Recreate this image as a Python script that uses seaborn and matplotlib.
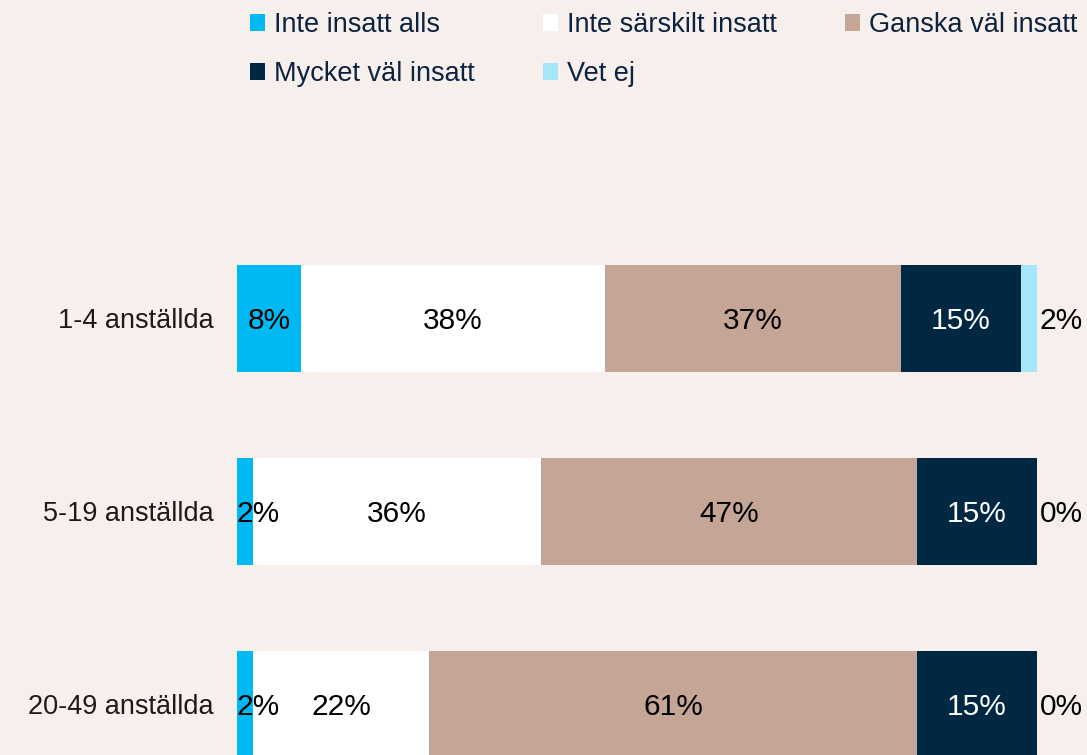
import matplotlib
matplotlib.use("Agg")
import matplotlib.pyplot as plt
from matplotlib.patches import Patch
import numpy as np
import pandas as pd
import seaborn as sns

# Data (percent of companies per size group)
categories = ["1-4 anställda", "5-19 anställda", "20-49 anställda"]
series = ["Inte insatt alls", "Inte särskilt insatt", "Ganska väl insatt",
          "Mycket väl insatt", "Vet ej"]
inte_insatt_alls = [8, 2, 2]
inte_sarskilt_insatt = [38, 36, 22]
ganska_val_insatt = [37, 47, 61]
mycket_val_insatt = [15, 15, 15]
vet_ej = [2, 0, 0]

colors = ["#00B9F2", "#FFFFFF", "#C4A596", "#012843", "#A6E6FB"]
label_colors = ["#000000", "#000000", "#000000", "#FFFFFF", "#000000"]
BG = "#F7EFEC"

sns.set_theme(style="white")
plt.rcParams["font.family"] = ["Liberation Sans", "DejaVu Sans"]

df = pd.DataFrame(
    np.array([inte_insatt_alls, inte_sarskilt_insatt, ganska_val_insatt,
              mycket_val_insatt, vet_ej]).T,
    index=categories, columns=series)
cum = df.cumsum(axis=1)

fig = plt.figure(figsize=(10.87, 7.55), dpi=100, facecolor=BG)
ax = fig.add_axes([237 / 1087, 0.0, 800 / 1087, 630 / 755])
ax.set_facecolor(BG)

# stacked bars: draw cumulative totals from the longest to the shortest
for i in reversed(range(len(series))):
    sns.barplot(x=cum[series[i]].values, y=categories, orient="h",
                color=colors[i], saturation=1, width=0.554,
                linewidth=0, ax=ax)

# value labels
for r, cat in enumerate(categories):
    for i, s in enumerate(series):
        val = df.loc[cat, s]
        end = cum.loc[cat, s]
        start = end - val
        txt = f"{val:.0f}%"
        y = r + 0.015
        if i == len(series) - 1:
            ax.text(end + 0.3, y, txt, ha="left", va="center",
                    fontsize=21.5, color=label_colors[i])
        elif val < 5:
            ax.text(start, y, txt, ha="left", va="center",
                    fontsize=21.5, color=label_colors[i])
        else:
            ax.text((start + end) / 2, y, txt, ha="center", va="center",
                    fontsize=21.5, color=label_colors[i])

ax.set_xlim(0, 100)
ax.set_ylim(2.262, -1.0)
ax.set_xlabel("")
ax.set_ylabel("")
ax.set_xticks([])
ax.tick_params(axis="y", length=0, pad=17, labelsize=19.5, labelcolor="#231815")
for sp in ax.spines.values():
    sp.set_visible(False)

handles = [Patch(facecolor=c, edgecolor="none") for c in colors]
order = [0, 3, 1, 4, 2]
leg = fig.legend([handles[k] for k in order], [series[k] for k in order],
                 loc="upper left", bbox_to_anchor=(250 / 1087, 1 - 12 / 755),
                 ncol=3, frameon=False, borderpad=0, borderaxespad=0,
                 handlelength=0.55, handleheight=0.55,
                 handletextpad=0.35, columnspacing=2.5, labelspacing=0.85,
                 prop={"size": 19.5})
for t in leg.get_texts():
    t.set_color("#0B2340")

fig.savefig("out.png", dpi=100, facecolor=BG)
